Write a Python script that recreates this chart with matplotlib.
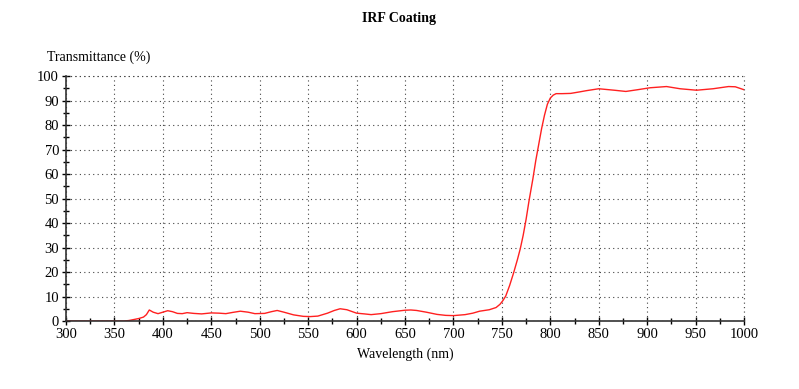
import matplotlib.pyplot as plt
import numpy as np
from matplotlib.ticker import MultipleLocator

# Transmittance curve
wavelength = [300, 330, 360, 365, 370, 375, 380, 383, 386, 390, 395, 400, 405, 410,
              415, 420, 425, 432, 440, 450, 458, 465, 472, 480, 488, 495, 505, 512,
              518, 525, 535, 545, 552, 560, 570, 577, 583, 590, 600, 608, 615, 625,
              637, 650, 656, 662, 672, 683, 692, 700, 712, 720, 727, 737, 744, 748,
              751, 754, 758, 762, 766, 769, 772, 775, 778, 782, 785, 788, 791,
              794, 797, 800, 803, 806, 812, 821, 830, 837, 850, 866, 878, 890, 903,
              920, 934, 951, 968, 984, 991, 1000]
transmittance = [0, 0, 0, 0.2, 0.6, 1.0, 1.6, 2.6, 4.5, 3.6, 3.0, 3.6, 4.2, 3.8,
                 3.1, 3.0, 3.4, 3.1, 2.9, 3.3, 3.2, 3.0, 3.5, 4.0, 3.6, 3.0, 3.1, 3.8,
                 4.3, 3.6, 2.5, 1.9, 1.8, 2.0, 3.2, 4.3, 5.0, 4.6, 3.2, 2.9, 2.6, 3.0,
                 3.8, 4.4, 4.5, 4.3, 3.6, 2.7, 2.3, 2.2, 2.6, 3.2, 4.0, 4.6, 5.5, 6.8,
                 8.3, 10.2, 14.5, 19.5, 25.0, 29.5, 35.0, 41.5, 49.0, 58.0, 65.5,
                 72.0, 78.5, 84.0, 88.5, 91.0, 92.2, 92.8, 92.8, 92.9, 93.5, 94.0, 94.8,
                 94.2, 93.7, 94.4, 95.2, 95.7, 94.8, 94.2, 94.8, 95.7, 95.6, 94.4]

x_major = np.arange(300, 1001, 50)
y_major = np.arange(0, 101, 10)

plt.rcParams['font.family'] = ['Liberation Serif', 'DejaVu Serif']

fig = plt.figure(figsize=(7.99, 3.89), dpi=100)
ax = fig.add_axes([0.0826, 0.1748, 0.8486, 0.6298])

ax.plot(wavelength, transmittance, color='#ff2020', lw=1.0)

ax.set_xlim(300, 1000)
ax.set_ylim(0, 100)
ax.set_xticks(x_major)
ax.set_yticks(y_major)
ax.xaxis.set_minor_locator(MultipleLocator(25))
ax.yaxis.set_minor_locator(MultipleLocator(5))
ax.tick_params(which='major', direction='inout', length=6, width=1, labelsize=10.5, pad=2)
ax.tick_params(which='minor', direction='inout', length=4, width=1)

ax.grid(True, which='major', color='#444444', linestyle=(0, (1, 3)), lw=0.8)
ax.spines['top'].set_visible(False)
ax.spines['right'].set_visible(False)
for s in ('left', 'bottom'):
    ax.spines[s].set_color('#333333')
    ax.spines[s].set_linewidth(1.2)
# dotted lines along top and right edge
ax.axhline(100, color='#444444', linestyle=(0, (1, 3)), lw=0.8, clip_on=False)
ax.axvline(1000, color='#444444', linestyle=(0, (1, 3)), lw=0.8, clip_on=False)

fig.text(0.5, 0.952, 'IRF Coating', ha='center', va='center', fontsize=10, fontweight='bold')
fig.text(0.059, 0.853, 'Transmittance (%)', ha='left', va='center', fontsize=10)
ax.set_xlabel('Wavelength (nm)', fontsize=10, labelpad=5)

fig.savefig('out.png', dpi=100)
